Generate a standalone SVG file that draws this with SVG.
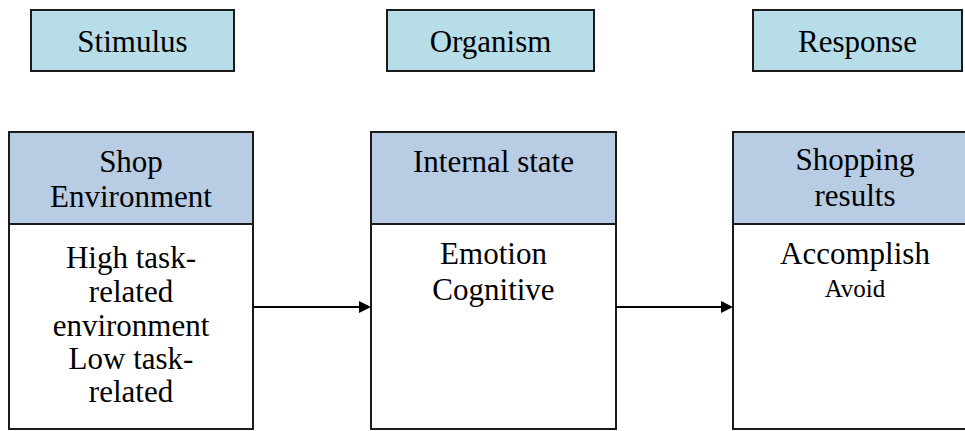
<svg xmlns="http://www.w3.org/2000/svg" width="965" height="431" viewBox="0 0 965 431">
  <rect width="965" height="431" fill="#FFFFFF"/>

  <g id="stimulus">
    <rect x="31" y="10" width="203" height="61" fill="#B7DDE8" stroke="#1a1a1a" stroke-width="2"/>
    <text x="132.5" y="52" font-family="Liberation Serif" font-size="31" text-anchor="middle">Stimulus</text>
  </g>
  <g id="organism">
    <rect x="387" y="10" width="207" height="61" fill="#B7DDE8" stroke="#1a1a1a" stroke-width="2"/>
    <text x="490.5" y="52" font-family="Liberation Serif" font-size="31" text-anchor="middle">Organism</text>
  </g>
  <g id="response">
    <rect x="753" y="10" width="209" height="61" fill="#B7DDE8" stroke="#1a1a1a" stroke-width="2"/>
    <text x="857.5" y="52" font-family="Liberation Serif" font-size="31" text-anchor="middle">Response</text>
  </g>

  <g id="shop-environment">
    <rect x="9" y="224" width="244" height="205" fill="#FFFFFF" stroke="#1a1a1a" stroke-width="2"/>
    <rect x="9" y="132" width="244" height="92" fill="#B8CCE4" stroke="#1a1a1a" stroke-width="2"/>
    <text x="131" y="172" font-family="Liberation Serif" font-size="31" text-anchor="middle">Shop</text>
    <text x="131" y="207" font-family="Liberation Serif" font-size="31" text-anchor="middle">Environment</text>
    <text x="131" y="268" font-family="Liberation Serif" font-size="31" text-anchor="middle">High task-</text>
    <text x="131" y="302" font-family="Liberation Serif" font-size="31" text-anchor="middle">related</text>
    <text x="131" y="336" font-family="Liberation Serif" font-size="31" text-anchor="middle">environment</text>
    <text x="131" y="369" font-family="Liberation Serif" font-size="31" text-anchor="middle">Low task-</text>
    <text x="131" y="402" font-family="Liberation Serif" font-size="31" text-anchor="middle">related</text>
  </g>

  <g id="internal-state">
    <rect x="371" y="224" width="245" height="205" fill="#FFFFFF" stroke="#1a1a1a" stroke-width="2"/>
    <rect x="371" y="132" width="245" height="92" fill="#B8CCE4" stroke="#1a1a1a" stroke-width="2"/>
    <text x="493.5" y="172" font-family="Liberation Serif" font-size="31" text-anchor="middle">Internal state</text>
    <text x="493.5" y="264" font-family="Liberation Serif" font-size="31" text-anchor="middle">Emotion</text>
    <text x="493.5" y="300" font-family="Liberation Serif" font-size="31" text-anchor="middle">Cognitive</text>
  </g>

  <g id="shopping-results">
    <rect x="733" y="224" width="244" height="205" fill="#FFFFFF" stroke="#1a1a1a" stroke-width="2"/>
    <rect x="733" y="132" width="244" height="92" fill="#B8CCE4" stroke="#1a1a1a" stroke-width="2"/>
    <text x="855" y="170" font-family="Liberation Serif" font-size="31" text-anchor="middle">Shopping</text>
    <text x="855" y="206" font-family="Liberation Serif" font-size="31" text-anchor="middle">results</text>
    <text x="855" y="264" font-family="Liberation Serif" font-size="31" text-anchor="middle">Accomplish</text>
    <text x="855" y="297" font-family="Liberation Serif" font-size="25" text-anchor="middle">Avoid</text>
  </g>

  <g id="connectors">
    <line x1="253" y1="307" x2="360" y2="307" stroke="#000" stroke-width="2"/>
    <path d="M359,301 L371,307 L359,313 Z" fill="#000"/>
    <line x1="616" y1="307" x2="722" y2="307" stroke="#000" stroke-width="2"/>
    <path d="M721,301 L733,307 L721,313 Z" fill="#000"/>
  </g>
</svg>
